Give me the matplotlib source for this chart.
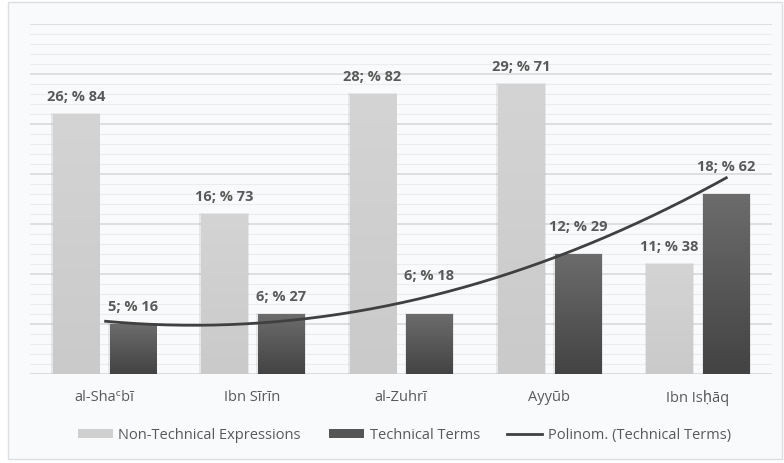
import numpy as np
import matplotlib
matplotlib.use("Agg")
import matplotlib.pyplot as plt
from matplotlib.patches import Rectangle
from matplotlib.lines import Line2D
from matplotlib.colors import LinearSegmentedColormap

plt.rcParams['font.family'] = ['Open Sans', 'DejaVu Sans']

categories = ["al-Shaᶜbī", "Ibn Sīrīn", "al-Zuhrī", "Ayyūb", "Ibn Isḥāq"]
non_technical = [26, 16, 28, 29, 11]
non_technical_pct = [84, 73, 82, 71, 38]
technical = [5, 6, 6, 12, 18]
technical_pct = [16, 27, 18, 29, 62]
series_names = ["Non-Technical Expressions", "Technical Terms", "Polinom. (Technical Terms)"]

W, H = 784, 464
fig = plt.figure(figsize=(W / 100, H / 100), dpi=100)
fig.patch.set_facecolor("white")

# outer chart frame
frame = Rectangle((8 / W, 4 / H), (782 - 8) / W, (461 - 4) / H, transform=fig.transFigure,
                  facecolor="#f9fafb", edgecolor="#dcdfe2", linewidth=1.0, zorder=-10)
fig.patches.append(frame)

ax = fig.add_axes([30 / W, (H - 375) / H, 742 / W, 350 / H])
ax.set_facecolor("none")
for s in ax.spines.values():
    s.set_visible(False)
ax.set_yticks([])
ax.tick_params(axis="x", length=0, pad=11, labelsize=10.5, labelcolor="#595959")
x = np.arange(len(categories))
ax.set_xticks(x)
ax.set_xticklabels(categories)

# gridlines: minor every unit, major every 5
for v in range(1, 36):
    if v % 5 == 0:
        ax.axhline(v, color="#d6d8da", lw=1.1, zorder=0.5)
    else:
        ax.axhline(v, color="#ebecee", lw=0.8, zorder=0.5)
ax.axhline(0, color="#d6d8da", lw=1.2, zorder=0.6)

bw = 0.31
off = 0.192
light_cmap = LinearSegmentedColormap.from_list("light", ["#cacaca", "#d4d4d4"])
dark_cmap = LinearSegmentedColormap.from_list("dark", ["#434343", "#6c6c6c"])


def gradient_bars(xs, vals, cmap, z):
    bars = ax.bar(xs, vals, width=bw, color="none", edgecolor="none", zorder=z)
    grad = np.linspace(0, 1, 256).reshape(-1, 1)
    for b in bars:
        x0, y0 = b.get_x(), b.get_y()
        w, h = b.get_width(), b.get_height()
        # soft shadow
        sh = Rectangle((x0 - 0.012, y0), w + 0.024, h + 0.12, facecolor="#000000",
                       alpha=0.07, edgecolor="none", zorder=z - 0.2)
        ax.add_patch(sh)
        im = ax.imshow(grad, cmap=cmap, aspect="auto", origin="lower",
                       extent=(x0, x0 + w, y0, y0 + h), zorder=z, interpolation="bicubic")
        im.set_clip_path(b)
    return bars


gradient_bars(x - off, non_technical, light_cmap, 2)
gradient_bars(x + off, technical, dark_cmap, 2)
ax.set_xlim(-0.5, len(categories) - 0.5)
ax.set_ylim(0, 35)

# label lift above each bar top (technical labels raised clear of the trendline)
non_tech_lift = [1.8, 1.8, 1.8, 1.8, 1.8]
tech_lift = [1.8, 1.8, 3.9, 2.8, 2.8]

lab_kw = dict(ha="center", va="center", fontsize=10.5, fontweight="bold", color="#595959", zorder=5)
for i in range(len(categories)):
    ax.text(x[i] - off, non_technical[i] + non_tech_lift[i],
            f"{non_technical[i]}; % {non_technical_pct[i]}", **lab_kw)
    ax.text(x[i] + off, technical[i] + tech_lift[i],
            f"{technical[i]}; % {technical_pct[i]}", **lab_kw)

# second-order polynomial trendline of the technical terms, forecast forward 0.2
coef = np.polyfit(x, technical, 2)
xt = np.linspace(0, len(categories) - 1 + 0.2, 200)
ax.plot(xt, np.polyval(coef, xt), color="#404040", lw=2.0, zorder=4, solid_capstyle="butt")

handles = [
    Rectangle((0, 0), 1, 1, facecolor="#cfcfcf", edgecolor="none"),
    Rectangle((0, 0), 1, 1, facecolor="#555555", edgecolor="none"),
    Line2D([0], [0], color="#404040", lw=2.0),
]
leg = fig.legend(handles, series_names, loc="center", bbox_to_anchor=(0.516, (H - 436) / H),
                 ncol=3, frameon=False, fontsize=10.5, handlelength=2.4, handleheight=0.6,
                 handletextpad=0.4, columnspacing=1.9)
for t in leg.get_texts():
    t.set_color("#595959")

fig.savefig("out.png", dpi=100, facecolor="white")
